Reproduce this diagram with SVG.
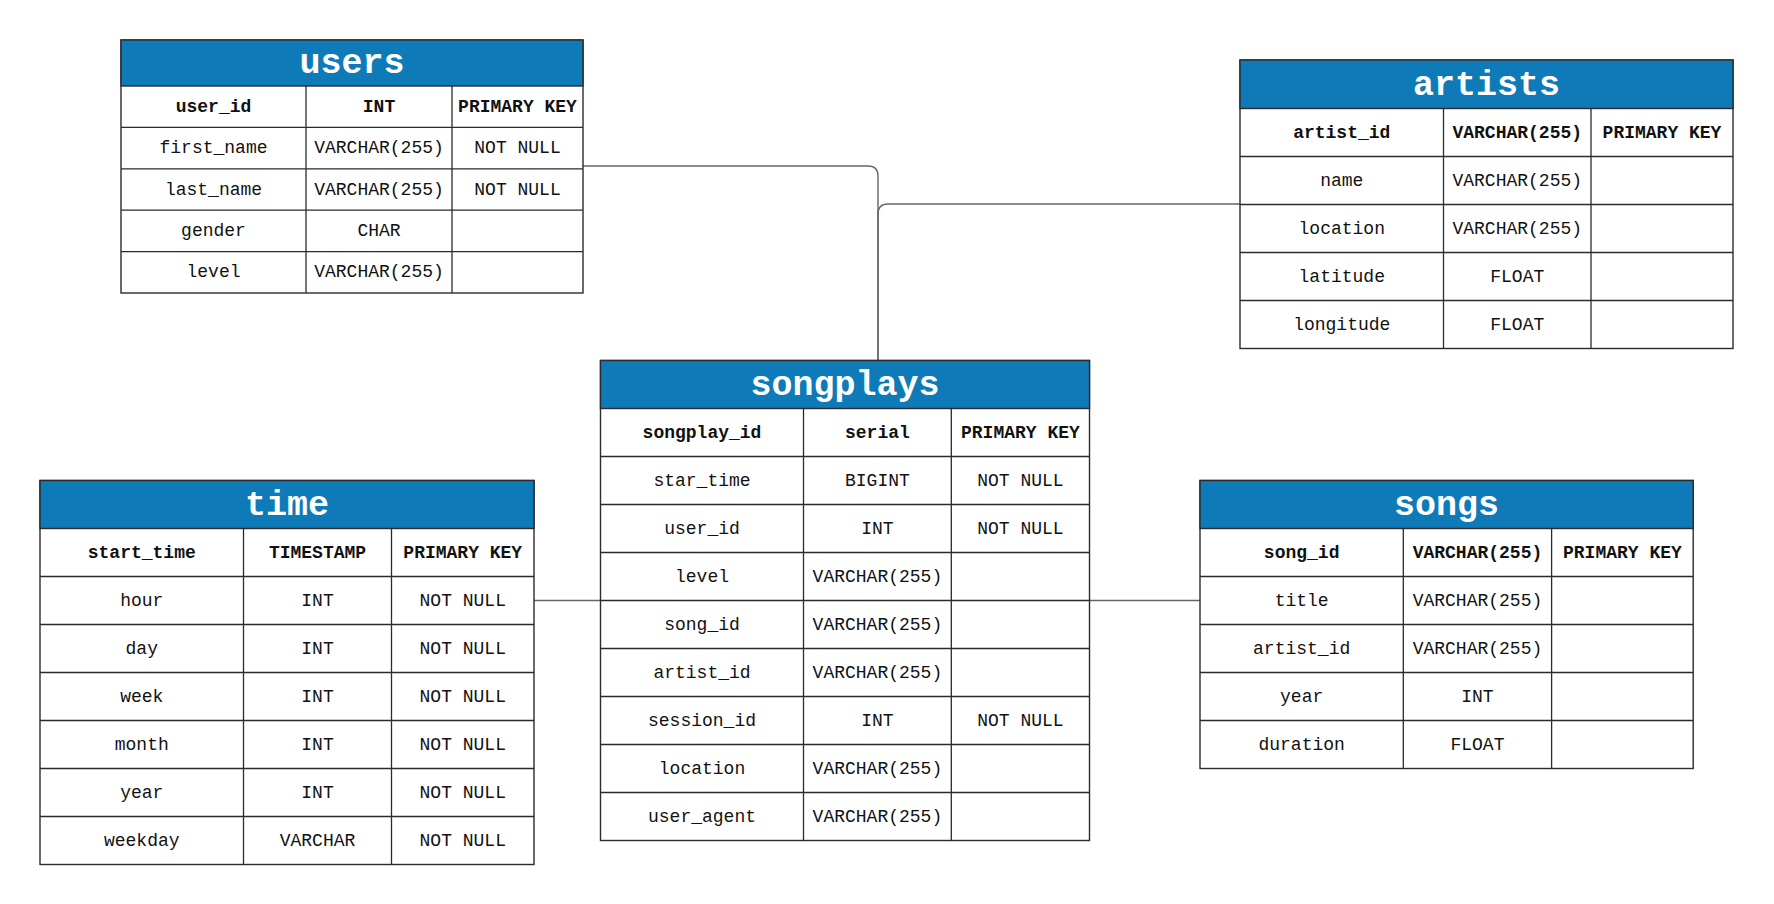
<svg xmlns="http://www.w3.org/2000/svg" width="1774" height="904" viewBox="0 0 1774 904">
<style>
.box{fill:#ffffff;stroke:#2b2b2b;stroke-width:1.4}
.head{fill:#0f7ab8;stroke:#2b2b2b;stroke-width:1.4}
.ln{stroke:#2b2b2b;stroke-width:1.3}
.t{font-family:"Liberation Mono","DejaVu Sans Mono",monospace;font-size:18px;fill:#111;text-anchor:middle}
.b{font-weight:bold}
.h{font-family:"Liberation Mono","DejaVu Sans Mono",monospace;font-size:35px;font-weight:bold;fill:#ffffff;text-anchor:middle}
.c{fill:none;stroke:#666666;stroke-width:1.4}
</style>
<rect width="1774" height="904" fill="#ffffff"/>
<g id="connectors">
<path class="c" d="M583,166 H868 Q878,166 878,176 V360.5"/>
<path class="c" d="M1240,204 H888 Q878,204 878,214 V360.5"/>
<path class="c" d="M534,600.5 H600.5"/>
<path class="c" d="M1089.5,600.5 H1200"/>
</g>
<g id="users">
<rect class="box" x="121" y="40" width="462" height="253"/>
<rect class="head" x="121" y="40" width="462" height="46"/>
<path class="ln" d="M121,127.4H583M121,168.8H583M121,210.2H583M121,251.6H583M306,86V293M452,86V293"/>
<text class="h" x="352" y="73">users</text>
<text class="t b" x="213.5" y="111.7">user_id</text><text class="t b" x="379" y="111.7">INT</text><text class="t b" x="517.5" y="111.7">PRIMARY KEY</text>
<text class="t" x="213.5" y="153.1">first_name</text><text class="t" x="379" y="153.1">VARCHAR(255)</text><text class="t" x="517.5" y="153.1">NOT NULL</text>
<text class="t" x="213.5" y="194.5">last_name</text><text class="t" x="379" y="194.5">VARCHAR(255)</text><text class="t" x="517.5" y="194.5">NOT NULL</text>
<text class="t" x="213.5" y="235.9">gender</text><text class="t" x="379" y="235.9">CHAR</text>
<text class="t" x="213.5" y="277.3">level</text><text class="t" x="379" y="277.3">VARCHAR(255)</text>
</g>
<g id="artists">
<rect class="box" x="1240" y="60" width="493" height="288.5"/>
<rect class="head" x="1240" y="60" width="493" height="48.5"/>
<path class="ln" d="M1240,156.5H1733M1240,204.5H1733M1240,252.5H1733M1240,300.5H1733M1443.5,108.5V348.5M1591,108.5V348.5"/>
<text class="h" x="1486.5" y="94.5">artists</text>
<text class="t b" x="1341.75" y="137.5">artist_id</text><text class="t b" x="1517.25" y="137.5">VARCHAR(255)</text><text class="t b" x="1662" y="137.5">PRIMARY KEY</text>
<text class="t" x="1341.75" y="185.5">name</text><text class="t" x="1517.25" y="185.5">VARCHAR(255)</text>
<text class="t" x="1341.75" y="233.5">location</text><text class="t" x="1517.25" y="233.5">VARCHAR(255)</text>
<text class="t" x="1341.75" y="281.5">latitude</text><text class="t" x="1517.25" y="281.5">FLOAT</text>
<text class="t" x="1341.75" y="329.5">longitude</text><text class="t" x="1517.25" y="329.5">FLOAT</text>
</g>
<g id="songplays">
<rect class="box" x="600.5" y="360.5" width="489" height="480"/>
<rect class="head" x="600.5" y="360.5" width="489" height="48"/>
<path class="ln" d="M600.5,456.5H1089.5M600.5,504.5H1089.5M600.5,552.5H1089.5M600.5,600.5H1089.5M600.5,648.5H1089.5M600.5,696.5H1089.5M600.5,744.5H1089.5M600.5,792.5H1089.5M803.5,408.5V840.5M951.3,408.5V840.5"/>
<text class="h" x="845" y="394.5">songplays</text>
<text class="t b" x="702" y="437.5">songplay_id</text><text class="t b" x="877.4" y="437.5">serial</text><text class="t b" x="1020.4" y="437.5">PRIMARY KEY</text>
<text class="t" x="702" y="485.5">star_time</text><text class="t" x="877.4" y="485.5">BIGINT</text><text class="t" x="1020.4" y="485.5">NOT NULL</text>
<text class="t" x="702" y="533.5">user_id</text><text class="t" x="877.4" y="533.5">INT</text><text class="t" x="1020.4" y="533.5">NOT NULL</text>
<text class="t" x="702" y="581.5">level</text><text class="t" x="877.4" y="581.5">VARCHAR(255)</text>
<text class="t" x="702" y="629.5">song_id</text><text class="t" x="877.4" y="629.5">VARCHAR(255)</text>
<text class="t" x="702" y="677.5">artist_id</text><text class="t" x="877.4" y="677.5">VARCHAR(255)</text>
<text class="t" x="702" y="725.5">session_id</text><text class="t" x="877.4" y="725.5">INT</text><text class="t" x="1020.4" y="725.5">NOT NULL</text>
<text class="t" x="702" y="773.5">location</text><text class="t" x="877.4" y="773.5">VARCHAR(255)</text>
<text class="t" x="702" y="821.5">user_agent</text><text class="t" x="877.4" y="821.5">VARCHAR(255)</text>
</g>
<g id="time">
<rect class="box" x="40" y="480.5" width="494" height="384"/>
<rect class="head" x="40" y="480.5" width="494" height="48"/>
<path class="ln" d="M40,576.5H534M40,624.5H534M40,672.5H534M40,720.5H534M40,768.5H534M40,816.5H534M243.5,528.5V864.5M391.5,528.5V864.5"/>
<text class="h" x="287" y="514.5">time</text>
<text class="t b" x="141.75" y="557.5">start_time</text><text class="t b" x="317.5" y="557.5">TIMESTAMP</text><text class="t b" x="462.75" y="557.5">PRIMARY KEY</text>
<text class="t" x="141.75" y="605.5">hour</text><text class="t" x="317.5" y="605.5">INT</text><text class="t" x="462.75" y="605.5">NOT NULL</text>
<text class="t" x="141.75" y="653.5">day</text><text class="t" x="317.5" y="653.5">INT</text><text class="t" x="462.75" y="653.5">NOT NULL</text>
<text class="t" x="141.75" y="701.5">week</text><text class="t" x="317.5" y="701.5">INT</text><text class="t" x="462.75" y="701.5">NOT NULL</text>
<text class="t" x="141.75" y="749.5">month</text><text class="t" x="317.5" y="749.5">INT</text><text class="t" x="462.75" y="749.5">NOT NULL</text>
<text class="t" x="141.75" y="797.5">year</text><text class="t" x="317.5" y="797.5">INT</text><text class="t" x="462.75" y="797.5">NOT NULL</text>
<text class="t" x="141.75" y="845.5">weekday</text><text class="t" x="317.5" y="845.5">VARCHAR</text><text class="t" x="462.75" y="845.5">NOT NULL</text>
</g>
<g id="songs">
<rect class="box" x="1200" y="480.5" width="493.2" height="288"/>
<rect class="head" x="1200" y="480.5" width="493.2" height="48"/>
<path class="ln" d="M1200,576.5H1693.2M1200,624.5H1693.2M1200,672.5H1693.2M1200,720.5H1693.2M1403.3,528.5V768.5M1551.6,528.5V768.5"/>
<text class="h" x="1446.6" y="514.5">songs</text>
<text class="t b" x="1301.65" y="557.5">song_id</text><text class="t b" x="1477.45" y="557.5">VARCHAR(255)</text><text class="t b" x="1622.4" y="557.5">PRIMARY KEY</text>
<text class="t" x="1301.65" y="605.5">title</text><text class="t" x="1477.45" y="605.5">VARCHAR(255)</text>
<text class="t" x="1301.65" y="653.5">artist_id</text><text class="t" x="1477.45" y="653.5">VARCHAR(255)</text>
<text class="t" x="1301.65" y="701.5">year</text><text class="t" x="1477.45" y="701.5">INT</text>
<text class="t" x="1301.65" y="749.5">duration</text><text class="t" x="1477.45" y="749.5">FLOAT</text>
</g>
</svg>
